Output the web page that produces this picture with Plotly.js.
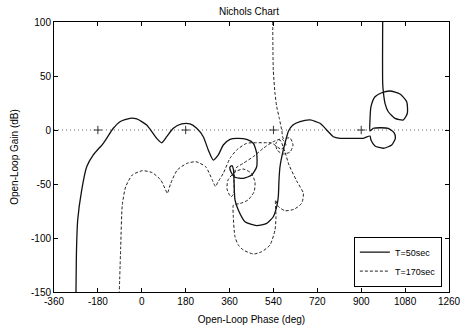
<!DOCTYPE html>
<html>
<head>
<meta charset="utf-8">
<script src="https://cdn.plot.ly/plotly-3.0.1.min.js"></script>
<style>html,body{margin:0;padding:0;background:#fff;}#chart{width:461px;height:325px;}</style>
</head>
<body>
<div id="chart"></div>
<script>
// Series names
const seriesNames = ["T=50sec", "T=170sec"];

// T=50sec : open-loop phase (deg) and gain (dB)
const solidPhase = [988, 988, 990.6, 997.5, 1011, 1038.5, 1072.6, 1089, 1086.5, 1059, 1018, 984, 956.5, 940, 936,
  936, 949.5, 977, 1011, 1034.4, 1039.8, 1025, 990.6, 956.5, 940, 936,
  908.5, 867.5, 813, 785.5, 765, 731, 690, 649, 620, 601.8, 594.4, 580.4, 566.9, 562.8, 559.9, 553.4, 539.4,
  512.3, 471.3, 423.3, 395.9, 382.3, 378.2, 376.2, 370, 361.8, 366, 382.3, 416.4, 450.8, 471.3, 471.3, 457.4,
  430.3, 389.3, 361.8, 334.3, 313.8, 293.3, 272.8, 252.3, 225.2, 197.8, 163.7, 129.3, 102.2, 81.7, 61.2, 20.2,
  -20.8, -48.3, -89.3, -116.8, -157.8, -198.8, -225.9, -246.4, -262.8, -267.7, -269.8];
const solidGain = [100, 43.5, 35.5, 24.7, 16.9, 10.8, 9.3, 15.5, 26.2, 33.3, 36.1, 34.5, 30.8, 21.6, 9.3,
  -0.9, 1.6, 2.1, 1.6, -2.5, -7.7, -13.9, -16.9, -14.8, -9.3, -5.6,
  -7.7, -7.7, -7.7, -6.2, -1.6, 6.2, 9.3, 7.7, 4.6, -0.9, -6.2, -18.5, -34, -46.3, -61.8, -71, -80.3,
  -86.4, -88.6, -84.9, -74.1, -64.8, -46.3, -37, -32.9, -34.3, -38.9, -43.8, -44.7, -41.7, -34, -21.6, -12.3,
  -8.6, -7.7, -8.6, -13.9, -23.1, -27.8, -18.5, -6.2, 1.6, 5.6, 5.6, 1.6, -6.2, -11.8, -7.7, 4.6,
  10.2, 10.8, 7.7, 1.6, -12.3, -23.1, -34, -55.6, -83.3, -111.1, -150];

// T=170sec : open-loop phase (deg) and gain (dB)
const dashedPhase = [537, 539.4, 546.4, 553.4, 564, 573.9, 580.4,
  607.9, 620.2, 607.9, 579.2, 554.6, 550.5, 566.9,
  587.4, 603.8, 635.4, 662.5, 655.9, 624.3, 587.4, 559.9, 548.4,
  550.5, 546.4, 525.9, 491.8, 457.4, 416.4, 395.9, 382.3, 375.4, 376.2,
  402.8, 435.7, 460.3, 464.4, 448, 415.1, 382.3, 353.6, 349.5, 365.9, 378.2, 378.2,
  386.4, 416.4, 457.4, 498.4, 539.4, 575.1, 591.5, 571, 532.8, 512.3, 471.3, 430.3, 389.3, 361.8, 334.3,
  312.6, 302.4, 289.2, 262.2, 222.4, 186.7, 145.7, 118.6, 104.7, 98.1, 77.6, 43.2, 2.1, -38.9, -65.9,
  -79.9, -86.4, -92.2];
const dashedGain = [100, 55.6, 34, 21.6, 10.8, 0, -7.7,
  -7.4, -13.9, -20.4, -22.2, -18.5, -12, -9.3,
  -20.4, -32.4, -47.2, -58.6, -67.9, -73.4, -74.7, -70.8, -64.8,
  -80.3, -92.6, -106.5, -112.7, -114.8, -111.1, -106.5, -98.8, -80.3, -69.4,
  -68.1, -64.8, -57.4, -48.1, -39.8, -36.1, -38.9, -46.3, -54.6, -62, -58.3, -46.3,
  -35.2, -30.8, -24.7, -16.9, -10.8, -8.3, -13.9, -17.6, -12, -11.8, -11.8, -12.3, -18.5, -26.2, -40.1,
  -48.1, -52.3, -46.3, -34, -29.4, -30.8, -37, -49.4, -58.6, -55.6, -46.3, -39.5, -37.7, -41.7, -52.5,
  -69.4, -108, -150];

// Nichols grid: 0 dB line and critical points
const gridPhase = [-360, 1260];
const gridGain = [0, 0];
const criticalPhase = [-180, 180, 540, 900];
const criticalGain = [0, 0, 0, 0];

// Axis ticks
const phaseTicks = [-360, -180, 0, 180, 360, 540, 720, 900, 1080, 1260];
const gainTicks = [-150, -100, -50, 0, 50, 100];

const font = {family: 'Liberation Sans, Arial, Helvetica, sans-serif', size: 10, color: '#000'};

const traces = [
  {x: gridPhase, y: gridGain, mode: 'lines', line: {color: '#666', width: 1, dash: '1px,3px'},
   showlegend: false, hoverinfo: 'skip'},
  {x: criticalPhase, y: criticalGain, mode: 'markers',
   marker: {symbol: 'cross-thin-open', size: 6, line: {color: '#333', width: 1}, color: '#333'},
   showlegend: false, hoverinfo: 'skip'},
  {x: solidPhase, y: solidGain, name: seriesNames[0], mode: 'lines',
   line: {color: '#111', width: 1.3, shape: 'spline', smoothing: 0.6}},
  {x: dashedPhase, y: dashedGain, name: seriesNames[1], mode: 'lines',
   line: {color: '#222', width: 1, dash: '3px,2px', shape: 'spline', smoothing: 0.6}}
];

const axisCommon = {
  showline: true, linecolor: '#000', linewidth: 1, mirror: 'ticks',
  ticks: 'inside', ticklen: 4, tickcolor: '#000', tickwidth: 1,
  showgrid: false, zeroline: false, tickfont: font, automargin: false
};

const layout = {
  width: 461, height: 325,
  margin: {l: 54, r: 12, t: 22, b: 33, pad: 0},
  paper_bgcolor: '#fff', plot_bgcolor: '#fff',
  font: font,
  title: {text: 'Nichols Chart', font: {family: font.family, size: 10, color: '#000'},
          x: 0.54, xanchor: 'center', y: 0.965, yanchor: 'middle'},
  xaxis: Object.assign({}, axisCommon, {
    range: [-360, 1260], tickvals: phaseTicks, ticktext: phaseTicks.map(String),
    title: {text: 'Open-Loop Phase (deg)', font: font, standoff: 9}
  }),
  yaxis: Object.assign({}, axisCommon, {
    range: [-150, 100], tickvals: gainTicks, ticktext: gainTicks.map(String),
    title: {text: 'Open-Loop Gain (dB)', font: font, standoff: 10}
  }),
  legend: {
    x: 0.982, y: 0.02, xanchor: 'right', yanchor: 'bottom',
    bgcolor: '#fff', bordercolor: '#000', borderwidth: 1,
    font: {family: font.family, size: 9, color: '#000'}, itemwidth: 30, tracegroupgap: 0
  },
  showlegend: true
};

Plotly.newPlot('chart', traces, layout, {staticPlot: true, displayModeBar: false});
</script>
</body>
</html>
